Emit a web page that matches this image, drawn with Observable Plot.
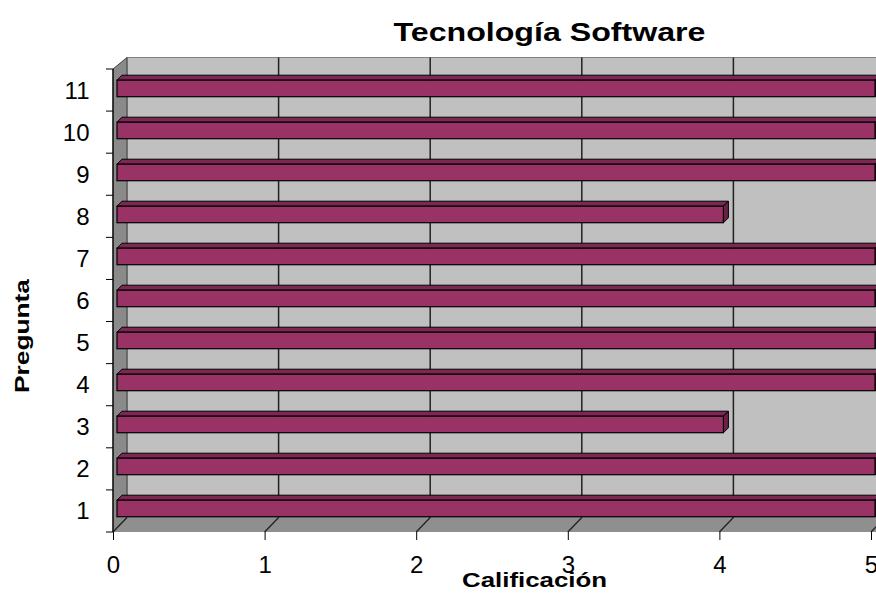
<!DOCTYPE html>
<html>
<head>
<meta charset="utf-8">
<script src="https://cdn.jsdelivr.net/npm/d3@7"></script>
<script src="https://cdn.jsdelivr.net/npm/@observablehq/plot@0.6"></script>
<style>
  html, body { margin: 0; padding: 0; background: #ffffff; overflow: hidden; }
  #chart svg { display: block; }
</style>
</head>
<body>
<div id="chart"></div>
<script>
// ---- data ----
const categories = ["1", "2", "3", "4", "5", "6", "7", "8", "9", "10", "11"];
const values = [5, 5, 4, 5, 5, 5, 5, 4, 5, 5, 5];
const xTicks = [0, 1, 2, 3, 4, 5];
const titleText = "Tecnología Software";
const xLabel = "Calificación";
const yLabel = "Pregunta";

const data = categories.map((c, i) => ({pregunta: c, value: values[i]}));

// ---- 3D look constants (pixels) ----
const DX = 14;         // wall depth, horizontal
const DYT = 11.5;      // wall depth, vertical at top
const DYB = 14.5;      // wall depth, vertical at bottom
const BD0 = 4;         // bar front-face depth offset
const BT = 5;          // bar thickness (depth)
const BAR_TOP = 10.2;  // offset of front face from band top
const BAR_H = 16.6;    // front face height

const W = 876, H = 593, ML = 113, MR = 5, MT = 69, MB = 61;
const FONT = "'Liberation Sans', Arial, Helvetica, sans-serif";

function walls(index, scales, values, dims) {
  const {x} = scales;
  const g = d3.create("svg:g");
  const x0 = x(0), x5 = x(5);
  const yTop = dims.marginTop, yBot = dims.height - dims.marginBottom;
  // back wall
  g.append("rect")
    .attr("x", x0 + DX).attr("y", yTop - DYT)
    .attr("width", x5 - x0 + 20).attr("height", (yBot - DYB) - (yTop - DYT))
    .attr("fill", "#c0c0c0").attr("stroke", "#808080").attr("stroke-width", 1);
  // left wall
  g.append("polygon")
    .attr("points", [[x0, yTop], [x0 + DX, yTop - DYT], [x0 + DX, yBot - DYB], [x0, yBot]].join(" "))
    .attr("fill", "#8a8a8a").attr("stroke", "#404040").attr("stroke-width", 1);
  // floor
  g.append("polygon")
    .attr("points", [[x0, yBot], [x0 + DX, yBot - DYB], [x5 + DX + 20, yBot - DYB], [x5 + 20, yBot]].join(" "))
    .attr("fill", "#8f8f8f").attr("stroke", "none");
  // gridlines on back wall + floor diagonals
  for (const v of xTicks) {
    const xv = x(v);
    if (v > 0) {
      g.append("line")
        .attr("x1", xv + DX).attr("x2", xv + DX)
        .attr("y1", yTop - DYT).attr("y2", yBot - DYB)
        .attr("stroke", "#222").attr("stroke-width", 1.5);
    }
    g.append("line")
      .attr("x1", xv).attr("y1", yBot)
      .attr("x2", xv + DX).attr("y2", yBot - DYB)
      .attr("stroke", "#222").attr("stroke-width", 1.3);
  }
  // left axis line and ticks at band boundaries
  g.append("line")
    .attr("x1", x0).attr("x2", x0).attr("y1", yTop).attr("y2", yBot)
    .attr("stroke", "#000").attr("stroke-width", 1.2);
  const n = categories.length;
  const bw = (yBot - yTop) / n;
  for (let i = 0; i <= n; i++) {
    const yy = yTop + i * bw;
    g.append("line")
      .attr("x1", x0 - 7).attr("x2", x0).attr("y1", yy).attr("y2", yy)
      .attr("stroke", "#000").attr("stroke-width", 1);
  }
  return g.node();
}

function barFaces(index, scales, values, dims) {
  const {x, y} = scales;
  const g = d3.create("svg:g");
  for (const d of data) {
    const xl = x(0) + BD0, xr = x(d.value) + BD0;
    const t = y(d.pregunta) + BAR_TOP, b = t + BAR_H;
    // top face
    g.append("polygon")
      .attr("points", [[xl, t], [xl + BT, t - BT], [xr + BT, t - BT], [xr, t]].join(" "))
      .attr("fill", "#7d2852").attr("stroke", "#000").attr("stroke-width", 1).attr("stroke-linejoin", "round");
    // right face
    g.append("polygon")
      .attr("points", [[xr, t], [xr + BT, t - BT], [xr + BT, b - BT], [xr, b]].join(" "))
      .attr("fill", "#6a2145").attr("stroke", "#000").attr("stroke-width", 1).attr("stroke-linejoin", "round");
  }
  return g.node();
}

const plot = Plot.plot({
  width: W,
  height: H,
  marginLeft: ML,
  marginRight: MR,
  marginTop: MT,
  marginBottom: MB,
  style: {fontFamily: FONT, color: "#000", background: "#ffffff", overflow: "hidden"},
  x: {domain: [0, 5], axis: null},
  y: {domain: categories.slice().reverse(), padding: 0, axis: null},
  marks: [
    walls,
    barFaces,
    Plot.barX(data, {
      x1: 0, x2: "value", y: "pregunta",
      insetTop: BAR_TOP,
      insetBottom: (H - MT - MB) / categories.length - BAR_TOP - BAR_H,
      dx: BD0,
      fill: "#993366", stroke: "#000", strokeWidth: 1.2
    }),
    Plot.axisX({
      ticks: xTicks, tickSize: 8, tickPadding: 15, fontSize: 24,
      tickFormat: d => String(d), label: null, stroke: "#000"
    }),
    Plot.axisY({
      tickSize: 0, tickPadding: 24, fontSize: 24, label: null
    }),
    Plot.text([titleText], {
      frameAnchor: "top", textAnchor: "middle", dx: 57, dy: -37, fontSize: 25, fontWeight: "bold",
      lineAnchor: "middle", text: d => d
    }),
    Plot.text([xLabel], {
      frameAnchor: "bottom", textAnchor: "middle", dx: 42, dy: 48, fontSize: 21, fontWeight: "bold",
      lineAnchor: "middle", text: d => d
    }),
    Plot.text([yLabel], {
      frameAnchor: "left", textAnchor: "middle", dx: -91, dy: 35, fontSize: 20, fontWeight: "bold",
      rotate: -90, lineAnchor: "middle", text: d => d
    })
  ]
});

// stretch the bold labels to match the reference widths
const lengths = {[titleText]: 312, [xLabel]: 145, [yLabel]: 114};
d3.select(plot).selectAll("text").each(function () {
  const L = lengths[this.textContent];
  if (L) {
    this.setAttribute("textLength", L);
    this.setAttribute("lengthAdjust", "spacingAndGlyphs");
  }
});

document.getElementById("chart").appendChild(plot);
</script>
</body>
</html>
